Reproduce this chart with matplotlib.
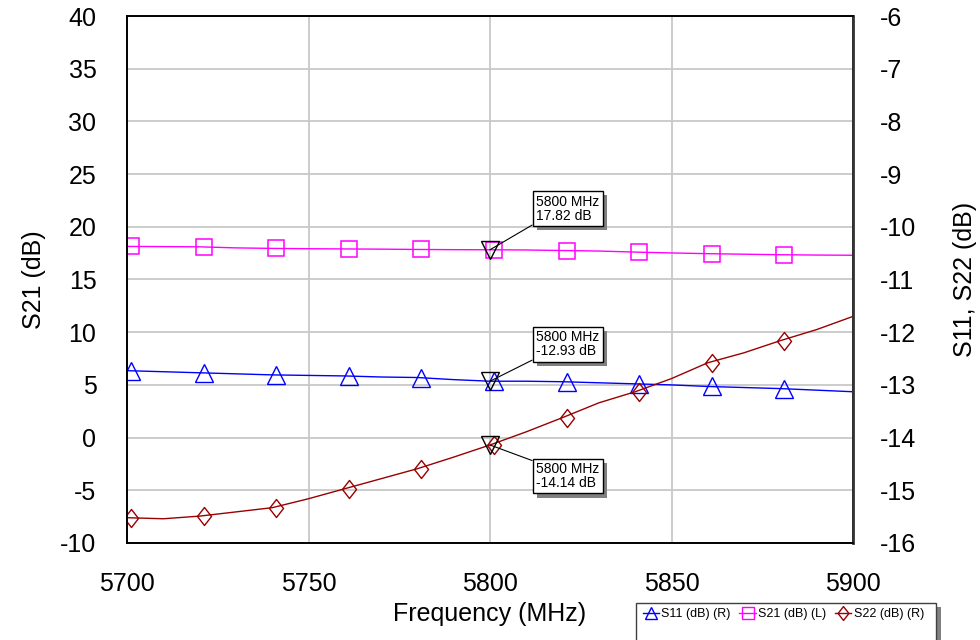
import matplotlib
matplotlib.use("Agg")
import matplotlib.pyplot as plt
import matplotlib.transforms as mtransforms
from matplotlib import patheffects
from matplotlib.lines import Line2D
from matplotlib.path import Path
from matplotlib.patches import Rectangle

plt.rcParams['font.family'] = ['Liberation Sans', 'DejaVu Sans']
plt.rcParams['axes.unicode_minus'] = False

freq = [5700, 5710, 5720, 5730, 5740, 5750, 5760, 5770, 5780, 5790, 5800,
        5810, 5820, 5830, 5840, 5850, 5860, 5870, 5880, 5890, 5900]
s21 = [18.14, 18.12, 18.10, 18.00, 17.95, 17.92, 17.90, 17.88, 17.85, 17.83, 17.82,
       17.80, 17.75, 17.70, 17.60, 17.52, 17.45, 17.40, 17.35, 17.32, 17.30]
s11 = [-12.73, -12.75, -12.77, -12.79, -12.81, -12.82, -12.83, -12.85, -12.86, -12.90, -12.93,
       -12.93, -12.94, -12.96, -12.98, -13.00, -13.03, -13.05, -13.07, -13.10, -13.13]
s22 = [-15.52, -15.54, -15.49, -15.41, -15.33, -15.16, -14.97, -14.78, -14.59, -14.37, -14.14,
       -13.89, -13.62, -13.34, -13.13, -12.88, -12.58, -12.39, -12.16, -11.95, -11.70]

marker_freq = 5800
marker_s21 = 17.82
marker_s11 = -12.93
marker_s22 = -14.14

left_ticks = [-10, -5, 0, 5, 10, 15, 20, 25, 30, 35, 40]
right_ticks = [-16, -15, -14, -13, -12, -11, -10, -9, -8, -7, -6]
x_ticks = [5700, 5750, 5800, 5850, 5900]

c11 = '#0000FF'
c21 = '#FF00FF'
c22 = '#990000'

fig = plt.figure(figsize=(9.8, 6.4), dpi=100)
ax = fig.add_axes([127/980, 1-543/640, 726/980, 527/640])
ax2 = ax.twinx()

ax.set_xlim(5700, 5900)
ax.set_ylim(-10, 40)
ax2.set_ylim(-16, -6)
ax.set_xticks(x_ticks)
ax.set_yticks(left_ticks)
ax2.set_yticks(right_ticks)

ax.grid(True, color='#C8C8C8', lw=1.3)
ax.set_axisbelow(True)
ax.tick_params(axis='both', length=0, labelsize=18)
ax.tick_params(axis='y', pad=22)
ax.tick_params(axis='x', pad=21)
ax2.tick_params(axis='y', length=0, labelsize=18, pad=19)
for a in (ax, ax2):
    for s in a.spines.values():
        s.set_linewidth(1.2)
        s.set_color('black')
ax2.spines['right'].set_color('#333333')
ax2.spines['right'].set_linewidth(2)

ax.set_xlabel('Frequency (MHz)', fontsize=18, labelpad=4)
ax.set_ylabel('S21 (dB)', fontsize=18, labelpad=10)
ax2.set_ylabel('S11, S22 (dB)', fontsize=18, labelpad=27)

diamond = Path([(0, 1), (0.78, 0), (0, -1), (-0.78, 0), (0, 1)],
               [Path.MOVETO, Path.LINETO, Path.LINETO, Path.LINETO, Path.CLOSEPOLY])

mk_idx = list(range(0, 19, 2))
off = mtransforms.ScaledTranslation(4/100, 0, fig.dpi_scale_trans)

ax.plot(freq, s21, color=c21, lw=1.0)
ax.plot([freq[i] for i in mk_idx], [s21[i] for i in mk_idx], ls='none', marker='s',
        ms=11, mfc='none', mec=c21, mew=1.1, transform=ax.transData + off)
ax2.plot(freq, s11, color=c11, lw=1.0)
ax2.plot([freq[i] for i in mk_idx], [s11[i] for i in mk_idx], ls='none', marker='^',
         ms=13, mfc='none', mec=c11, mew=1.0, transform=ax2.transData + off)
ax2.plot(freq, s22, color=c22, lw=1.0)
ax2.plot([freq[i] for i in mk_idx], [s22[i] for i in mk_idx], ls='none', marker=diamond,
         ms=13, mfc='none', mec=c22, mew=1.0, transform=ax2.transData + off)

# marker annotations
ax.plot([marker_freq], [marker_s21], ls='none', marker='v', ms=13, mfc='none', mec='black', mew=1.0)
ax2.plot([marker_freq], [marker_s11], ls='none', marker='v', ms=13, mfc='none', mec='black', mew=1.0)
ax2.plot([marker_freq], [marker_s22], ls='none', marker='v', ms=13, mfc='none', mec='black', mew=1.0)

shadow = [patheffects.withSimplePatchShadow(offset=(3, -3), shadow_rgbFace='#808080', alpha=1.0)]

def tag(a, y, text, dx, dy, va, relpos):
    ann = a.annotate(text, xy=(marker_freq, y), xytext=(dx, dy), textcoords='offset pixels',
                     ha='left', va=va, fontsize=10, linespacing=1.0,
                     bbox=dict(boxstyle='square,pad=0.25', fc='white', ec='black', lw=1.0),
                     arrowprops=dict(arrowstyle='-', color='black', lw=0.8,
                                     shrinkA=0, shrinkB=0, relpos=relpos))
    ann.get_bbox_patch().set_path_effects(shadow)
    return ann

tag(ax, marker_s21, '5800 MHz\n17.82 dB', 46, 27, 'bottom', (0, 0))
tag(ax2, marker_s11, '5800 MHz\n-12.93 dB', 46, 23, 'bottom', (0, 0))
tag(ax2, marker_s22, '5800 MHz\n-14.14 dB', 46, -17, 'top', (0, 1))

# legend frame with shadow
fig.patches.append(Rectangle((640/980, 0), 301/980, 1-607/640, transform=fig.transFigure,
                             fc='#808080', ec='none', zorder=1))
fig.patches.append(Rectangle((636/980, -0.01), 300/980, 1-603/640 + 0.01, transform=fig.transFigure,
                             fc='white', ec='#404040', lw=1.0, zorder=2))

handles = [
    Line2D([], [], color=c11, lw=1.0, marker='^', ms=9, mfc='none', mec=c11),
    Line2D([], [], color=c21, lw=1.0, marker='s', ms=9, mfc='none', mec=c21),
    Line2D([], [], color=c22, lw=1.0, marker=diamond, ms=10, mfc='none', mec=c22),
]
labels = ['S11 (dB) (R)', 'S21 (dB) (L)', 'S22 (dB) (R)']
leg = fig.legend(handles, labels, loc='upper left', bbox_to_anchor=(640/980, 1-606/640),
                 ncol=3, fontsize=9, frameon=False,
                 handlelength=1.3, handletextpad=0.2, columnspacing=0.7,
                 borderpad=0.2, borderaxespad=0)
leg.set_zorder(5)

fig.savefig('out.png', dpi=100)
